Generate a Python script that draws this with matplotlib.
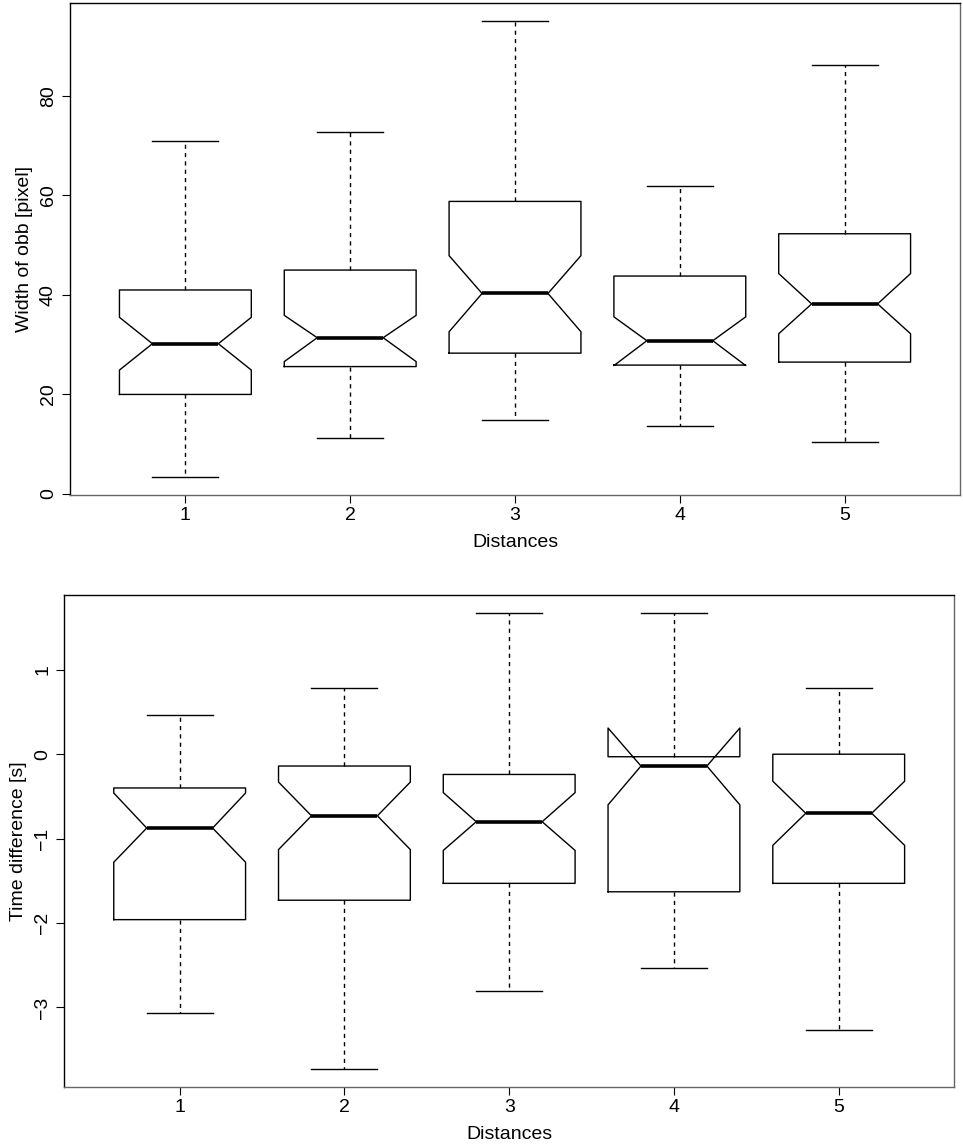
import matplotlib
matplotlib.use('Agg')
import matplotlib.pyplot as plt

plt.rcParams['font.family'] = ['Liberation Sans', 'DejaVu Sans']

distances = [1, 2, 3, 4, 5]

# width of obb [pixel]
w_whislo = [3.4, 11.3, 14.9, 13.6, 10.5]
w_q1 = [20.0, 25.6, 28.3, 25.9, 26.5]
w_cilo = [24.9, 26.6, 32.6, 25.8, 32.2]
w_med = [30.2, 31.4, 40.3, 30.8, 38.2]
w_cihi = [35.5, 35.9, 47.9, 35.6, 44.3]
w_q3 = [41.0, 45.0, 58.8, 43.8, 52.3]
w_whishi = [71.0, 72.8, 95.0, 61.8, 86.2]

# time difference [s]
t_whislo = [-3.07, -3.73, -2.80, -2.53, -3.27]
t_q1 = [-1.96, -1.73, -1.53, -1.63, -1.53]
t_cilo = [-1.28, -1.13, -1.14, -0.60, -1.08]
t_med = [-0.875, -0.73, -0.80, -0.14, -0.70]
t_cihi = [-0.46, -0.33, -0.455, 0.31, -0.32]
t_q3 = [-0.40, -0.14, -0.24, -0.03, 0.0]
t_whishi = [0.47, 0.79, 1.67, 1.67, 0.79]


def make_stats(lo, q1, cilo, med, cihi, q3, hi):
    out = []
    for i in range(len(med)):
        out.append({'whislo': lo[i], 'q1': q1[i], 'cilo': cilo[i], 'med': med[i],
                    'cihi': cihi[i], 'q3': q3[i], 'whishi': hi[i], 'fliers': []})
    return out


def draw(ax, stats, ylabel, ticks):
    ax.bxp(stats, positions=distances, widths=0.8, shownotches=True,
           showfliers=False,
           boxprops=dict(color='black', lw=1.0),
           whiskerprops=dict(color='black', lw=1.0, linestyle=(0, (3, 3))),
           capprops=dict(color='black', lw=1.0),
           medianprops=dict(color='black', lw=2.6, solid_capstyle='butt'))
    lo = min(s['whislo'] for s in stats)
    hi = max(s['whishi'] for s in stats)
    pad = 0.04 * (hi - lo)
    ax.set_ylim(lo - pad, hi + pad)
    ax.set_xlim(0.3, 5.7)
    ax.set_xticks(distances)
    ax.set_xticklabels([str(d) for d in distances])
    ax.set_yticks(ticks)
    ax.set_yticklabels([str(t).replace('-', '\u2212') for t in ticks], rotation=90, va='center')
    ax.tick_params(labelsize=14, length=5.5, width=0.8)
    ax.tick_params(axis='x', pad=3)
    ax.tick_params(axis='y', pad=4)
    ax.set_xlabel('Distances', fontsize=14, labelpad=7)
    ax.set_ylabel(ylabel, fontsize=14, labelpad=5)
    for side in ['top', 'left']:
        ax.spines[side].set_color('black')
    for side in ['bottom', 'right']:
        ax.spines[side].set_color('#666666')
    for sp in ax.spines.values():
        sp.set_linewidth(1.0)


fig = plt.figure(figsize=(9.63, 11.48), dpi=100)
ax1 = fig.add_axes([0.0727, 0.5686, 0.9242, 0.4287])
ax2 = fig.add_axes([0.0668, 0.0529, 0.9239, 0.4288])

draw(ax1, make_stats(w_whislo, w_q1, w_cilo, w_med, w_cihi, w_q3, w_whishi),
     'Width of obb [pixel]', [0, 20, 40, 60, 80])
draw(ax2, make_stats(t_whislo, t_q1, t_cilo, t_med, t_cihi, t_q3, t_whishi),
     'Time difference [s]', [-3, -2, -1, 0, 1])

fig.savefig('out.png', dpi=100)
